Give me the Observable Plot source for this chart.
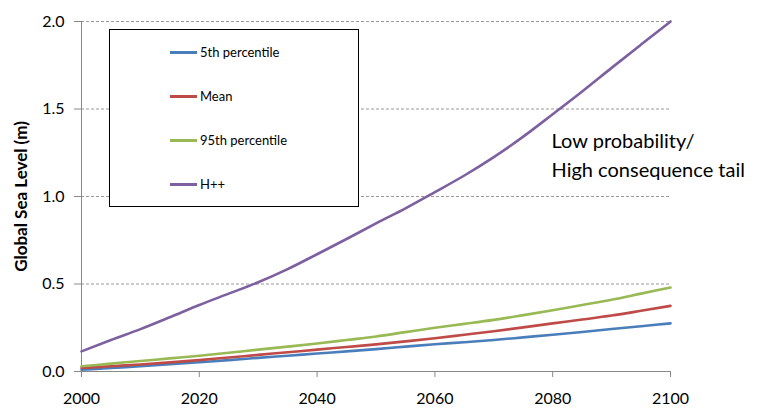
<!DOCTYPE html>
<html>
<head>
<meta charset="utf-8">
<script src="https://cdn.jsdelivr.net/npm/d3@7"></script>
<script src="https://cdn.jsdelivr.net/npm/@observablehq/plot@0.6"></script>
<style>
  body { margin: 0; background: #fff; }
  #wrap { position: relative; width: 771px; height: 410px; font-family: Lato, "Open Sans", sans-serif; }
  #legend { position: absolute; left: 109px; top: 29px; width: 248px; height: 176px; border: 1px solid #000; background: #fff; }
  .item { position: absolute; left: 60px; height: 16px; display: flex; align-items: center; font-size: 13px; color: #000; }
  .sw { width: 27px; height: 3px; margin-right: 3px; }
</style>
</head>
<body>
<div id="wrap"></div>
<script>
const years = [2000,2005,2010,2015,2020,2025,2030,2035,2040,2045,2050,2055,2060,2065,2070,2075,2080,2085,2090,2095,2100];
const p5   = [0.010,0.020,0.030,0.041,0.053,0.065,0.078,0.090,0.103,0.115,0.128,0.142,0.156,0.167,0.180,0.195,0.210,0.226,0.243,0.259,0.275];
const mean = [0.020,0.030,0.040,0.052,0.065,0.080,0.095,0.110,0.125,0.140,0.155,0.172,0.190,0.210,0.230,0.252,0.275,0.297,0.320,0.347,0.375];
const p95  = [0.030,0.045,0.060,0.075,0.090,0.107,0.125,0.142,0.160,0.180,0.200,0.225,0.250,0.272,0.295,0.322,0.350,0.380,0.410,0.445,0.480];
const hpp  = [0.115,0.180,0.242,0.310,0.380,0.445,0.510,0.585,0.670,0.757,0.846,0.932,1.025,1.120,1.225,1.342,1.470,1.600,1.735,1.868,2.000];
const seriesNames = ["5th percentile","Mean","95th percentile","H++"];
const seriesColors = ["#4A7EBB","#BE4B48","#98B954","#7D60A0"];
const xTicks = [2000,2020,2040,2060,2080,2100];
const yTicks = [0,0.5,1,1.5,2];
const annotation = ["Low probability/","High consequence tail"];

const allSeries = [p5, mean, p95, hpp];
const rows = [];
allSeries.forEach((vals, i) => vals.forEach((v, j) => rows.push({year: years[j], value: v, series: seriesNames[i]})));

const chart = Plot.plot({
  width: 771,
  height: 410,
  marginLeft: 81,
  marginRight: 101,
  marginTop: 21,
  marginBottom: 39,
  style: {fontFamily: "Lato, 'Open Sans', sans-serif", fontSize: "16px", color: "#000", background: "#fff"},
  x: {domain: [2000, 2100]},
  y: {domain: [0, 2]},
  color: {domain: seriesNames, range: seriesColors},
  marks: [
    Plot.gridY(yTicks.slice(1), {stroke: "#999", strokeOpacity: 1, strokeDasharray: "3,2"}),
    Plot.axisY(yTicks, {tickSize: 7, tickPadding: 10, stroke: "#888", fill: "#000", tickFormat: d3.format(".1f"),
      label: "Global Sea Level (m)", labelAnchor: "center", labelArrow: "none", labelOffset: 67}),
    Plot.axisX(xTicks, {tickSize: 6, tickPadding: 15, stroke: "#888", fill: "#000", tickFormat: d => String(d), label: null}),
    Plot.ruleX([2000], {stroke: "#888"}),
    Plot.ruleY([0], {stroke: "#888"}),
    Plot.line(rows, {x: "year", y: "value", z: "series", stroke: "series", strokeWidth: 2.6, curve: "monotone-x"}),
    Plot.text([annotation.join("\n")], {x: 2079.8, y: 1.25, text: d => d, textAnchor: "start", fontSize: 20, lineHeight: 1.45, fill: "#000"})
  ]
});
const lbl = chart.querySelector('[aria-label="y-axis label"]');
if (lbl) { lbl.setAttribute("font-weight", "bold"); lbl.setAttribute("font-size", "17"); }

const wrap = document.getElementById("wrap");
wrap.appendChild(chart);
const leg = document.createElement("div");
leg.id = "legend";
const tops = [14, 58, 102, 146];
seriesNames.forEach((n, i) => {
  const it = document.createElement("div");
  it.className = "item";
  it.style.top = tops[i] + "px";
  const sw = document.createElement("span");
  sw.className = "sw";
  sw.style.background = seriesColors[i];
  const t = document.createElement("span");
  t.textContent = n;
  it.appendChild(sw); it.appendChild(t);
  leg.appendChild(it);
});
wrap.appendChild(leg);
</script>
</body>
</html>
